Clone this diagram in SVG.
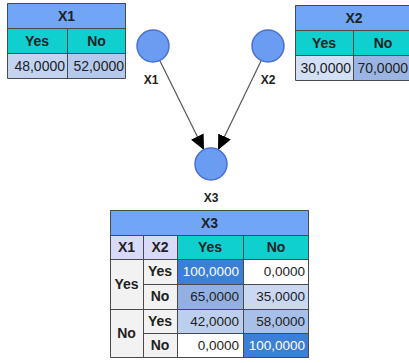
<svg xmlns="http://www.w3.org/2000/svg" width="409" height="363" viewBox="0 0 409 363">
<style>
text{font-family:"Liberation Sans",Arial,sans-serif;fill:#222}
.b{font-weight:bold;font-size:14px;text-anchor:middle}
.v{font-size:14px;text-anchor:end}
.v3{font-size:13.5px;text-anchor:end}
.w{fill:#fff}
.title{fill:#71a6f6}
.hdr{fill:#0fcfcf}
.par{fill:#d9d9f9}
.rh{fill:#f2f2f2}
.grid{stroke:#4a4a4a;stroke-width:1;fill:none}
.node{fill:#6a9cf2;stroke:#4a70d2;stroke-width:1.5}
.lbl{font-weight:bold;font-size:12px;text-anchor:middle}
.edge{stroke:#555;stroke-width:1.2;fill:none;marker-end:url(#ah)}
</style>
<defs>
<marker id="ah" markerUnits="userSpaceOnUse" markerWidth="16" markerHeight="15" refX="15" refY="7" orient="auto">
<path d="M0,0 L15,7 L0,14 z" fill="#000"/>
</marker>
</defs>
<rect width="409" height="363" fill="#fff"/>

<g id="connectors">
<line class="edge" x1="160" y1="61" x2="204" y2="150"/>
<line class="edge" x1="261" y1="61" x2="218" y2="150"/>
</g>

<g id="node-X1">
<circle class="node" cx="153" cy="46" r="16"/>
<text class="lbl" x="151" y="84">X1</text>
</g>
<g id="node-X2">
<circle class="node" cx="268" cy="46" r="16"/>
<text class="lbl" x="268" y="84">X2</text>
</g>
<g id="node-X3">
<circle class="node" cx="211" cy="164" r="16"/>
<text class="lbl" x="211" y="202">X3</text>
</g>

<g id="table-X1">
<rect class="title" x="7" y="3" width="119" height="25"/>
<rect class="hdr" x="7" y="28" width="119" height="25"/>
<rect x="7" y="53" width="60" height="25" fill="#c3d3f0"/>
<rect x="67" y="53" width="59" height="25" fill="#b5c9ec"/>
<path class="grid" d="M7.5,3.5H125.5V78.5H7.5Z M7.5,28.5H125.5 M7.5,53.5H125.5 M67.5,28.5V78.5"/>
<text class="b" x="66.5" y="21">X1</text>
<text class="b" x="37" y="46">Yes</text>
<text class="b" x="96.5" y="46">No</text>
<text class="v" x="65" y="71">48,0000</text>
<text class="v" x="124" y="71">52,0000</text>
</g>

<g id="table-X2">
<rect class="title" x="295" y="5" width="119" height="25"/>
<rect class="hdr" x="295" y="30" width="119" height="25"/>
<rect x="295" y="55" width="58" height="25" fill="#d3dff5"/>
<rect x="353" y="55" width="61" height="25" fill="#9ab5e4"/>
<path class="grid" d="M295.5,5.5H414V80.5H295.5Z M295.5,30.5H414 M295.5,55.5H414 M353.5,30.5V80.5"/>
<text class="b" x="354" y="23">X2</text>
<text class="b" x="324" y="48">Yes</text>
<text class="b" x="383" y="48">No</text>
<text class="v" x="351" y="73">30,0000</text>
<text class="v" x="408" y="73">70,0000</text>
</g>

<g id="table-X3">
<rect class="title" x="110" y="210" width="199" height="25"/>
<rect class="par" x="110" y="235" width="67" height="24"/>
<rect class="hdr" x="177" y="235" width="132" height="24"/>
<rect class="rh" x="110" y="259" width="67" height="99"/>
<rect x="177" y="259" width="66" height="25" fill="#3c7fd6"/>
<rect x="243" y="259" width="66" height="25" fill="#ffffff"/>
<rect x="177" y="284" width="66" height="25" fill="#93b0e2"/>
<rect x="243" y="284" width="66" height="25" fill="#cad8f2"/>
<rect x="177" y="309" width="66" height="24" fill="#bccfee"/>
<rect x="243" y="309" width="66" height="24" fill="#a8c0e8"/>
<rect x="177" y="333" width="66" height="25" fill="#ffffff"/>
<rect x="243" y="333" width="66" height="25" fill="#3c7fd6"/>
<path class="grid" d="M110.5,210.5H308.5V357.5H110.5Z M110.5,235.5H308.5 M110.5,259.5H308.5 M143.5,284.5H308.5 M110.5,309.5H308.5 M143.5,333.5H308.5 M143.5,235.5V357.5 M177.5,235.5V357.5 M243.5,235.5V357.5"/>
<text class="b" x="209.5" y="228">X3</text>
<text class="b" x="126.5" y="252">X1</text>
<text class="b" x="160" y="252">X2</text>
<text class="b" x="210" y="252">Yes</text>
<text class="b" x="276" y="252">No</text>
<text class="b" x="126.5" y="289">Yes</text>
<text class="b" x="126.5" y="338">No</text>
<text class="b" x="160" y="276">Yes</text>
<text class="b" x="160" y="301">No</text>
<text class="b" x="160" y="326">Yes</text>
<text class="b" x="160" y="350">No</text>
<text class="v3 w" x="239" y="276">100,0000</text>
<text class="v3" x="305" y="276">0,0000</text>
<text class="v3" x="239" y="301">65,0000</text>
<text class="v3" x="305" y="301">35,0000</text>
<text class="v3" x="239" y="326">42,0000</text>
<text class="v3" x="305" y="326">58,0000</text>
<text class="v3" x="239" y="350">0,0000</text>
<text class="v3 w" x="305" y="350">100,0000</text>
</g>
</svg>
